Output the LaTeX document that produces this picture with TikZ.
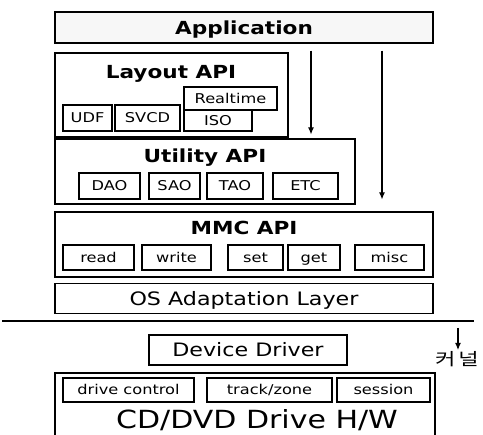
\documentclass[tikz,border=0pt]{standalone}
\usepackage{fontspec}
\setmainfont{DejaVu Sans}[FakeStretch=1.2]
\newfontfamily\kfont{Noto Sans CJK KR}[FakeStretch=1.3]
\usetikzlibrary{arrows.meta}
\begin{document}
\begin{tikzpicture}[x=1pt,y=-1pt,
  box/.style={draw, line width=1.1pt, inner sep=0pt},
  sbox/.style={box, font=\fontsize{13.5}{14}\selectfont, text height=9.8pt, text depth=0pt},
  title/.style={font=\fontsize{18}{20}\selectfont\bfseries, text height=13.1pt, text depth=0pt, inner sep=0pt},
  midtext/.style={font=\fontsize{18.5}{20}\selectfont, text height=13.4pt, text depth=0pt},
  arr/.style={line width=1.1pt, -{Latex[length=7pt,width=6pt]}}]
\useasboundingbox (0,0) rectangle (483,435);

% Application
\node[box, title, fill=gray!6, minimum width=378pt, minimum height=31pt] (app) at (244,27.5) {Application};

% Layout API
\node[box, minimum width=233pt, minimum height=84pt] (layout) at (171.5,95) {};
\node[title] (layoutT) at (171,72) {Layout API};
\node[sbox, minimum width=68pt, minimum height=21pt] (iso) at (218,120.5) {ISO};
\node[sbox, minimum width=93pt, minimum height=23pt] (rt) at (230.5,98.5) {Realtime};
\node[sbox, minimum width=49pt, minimum height=26pt] (udf) at (87.5,118) {UDF};
\node[sbox, minimum width=65pt, minimum height=26pt] (svcd) at (147.5,118) {SVCD};

% Utility API
\node[box, minimum width=300pt, minimum height=65pt] (util) at (205,171.5) {};
\node[title] (utilT) at (205,156) {Utility API};
\node[sbox, minimum width=61pt, minimum height=26pt] (dao) at (109.5,186) {DAO};
\node[sbox, minimum width=51pt, minimum height=26pt] (sao) at (174.5,186) {SAO};
\node[sbox, minimum width=56pt, minimum height=26pt] (tao) at (235,186) {TAO};
\node[sbox, minimum width=65pt, minimum height=26pt] (etc) at (305.5,186) {ETC};

% MMC API
\node[box, minimum width=378pt, minimum height=65pt] (mmc) at (244,244.5) {};
\node[title] (mmcT) at (244,228) {MMC API};
\node[sbox, minimum width=71pt, minimum height=25pt] (read) at (98.5,257.5) {read};
\node[sbox, minimum width=69pt, minimum height=25pt] (write) at (176.5,257.5) {write};
\node[sbox, minimum width=55pt, minimum height=25pt] (set) at (255.5,257.5) {set};
\node[sbox, minimum width=52pt, minimum height=25pt] (get) at (314,257.5) {get};
\node[sbox, minimum width=69pt, minimum height=25pt] (misc) at (389.5,257.5) {misc};

% OS Adaptation Layer
\node[box, midtext, minimum width=378pt, minimum height=30pt] (os) at (244,298.5) {OS Adaptation Layer};

% separator
\coordinate (l1) at (2,321);
\coordinate (l2) at (474,321);
\draw[line width=1.7pt] (l1) -- (l2);

% Device Driver
\node[box, midtext, minimum width=198pt, minimum height=30pt] (dd) at (248,350) {Device Driver};

% CD/DVD Drive H/W
\coordinate (b1) at (55,435);
\coordinate (b2) at (55,373);
\coordinate (b3) at (435,373);
\coordinate (b4) at (435,435);
\draw[line width=1.1pt] (b1) -- (b2) -- (b3) -- (b4);
\node[sbox, minimum width=131pt, minimum height=24pt] (dc) at (128.5,390) {drive control};
\node[sbox, minimum width=125pt, minimum height=24pt] (tz) at (269.5,390) {track/zone};
\node[sbox, minimum width=93pt, minimum height=24pt] (ses) at (383.5,390) {session};
\node[font=\fontsize{25}{27}\selectfont, text height=18.2pt, text depth=0pt, inner sep=0pt] (hw) at (257,419) {CD/DVD Drive H/W};

% kernel label
\node[font=\kfont\fontsize{17}{19}\selectfont, inner sep=0pt] (kern) at (457,359) {커\hspace{3pt}널};

% arrows
\coordinate (ax1) at (311,0);
\coordinate (ax2) at (382,0);
\draw[arr, shorten <=7pt, shorten >=4pt] (app.south -| ax1) -- (util.north -| ax1);
\draw[arr, shorten <=7pt, shorten >=12pt] (app.south -| ax2) -- (mmc.north -| ax2);
\coordinate (k1) at (458,350);
\draw[arr, shorten <=7pt] (l2 -| k1) -- (k1);
\end{tikzpicture}
\end{document}
